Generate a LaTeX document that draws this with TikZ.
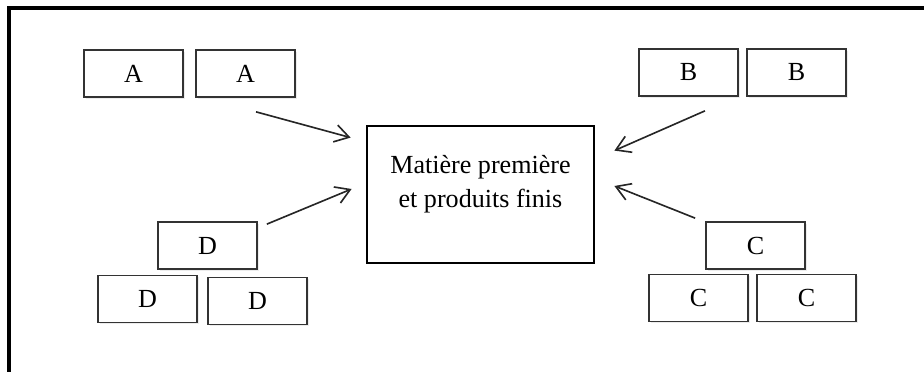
\documentclass[tikz,border=0pt]{standalone}
\usepackage{fontspec}
\setmainfont{Liberation Serif}
\usetikzlibrary{arrows.meta, shadows}

\begin{document}
\begin{tikzpicture}[x = 0.46pt, y = -0.46pt,
    part/.style = {draw = black!80, line width = 0.8pt, fill = white,
                   minimum width = 45.5pt, minimum height = 21.6pt, inner sep = 0pt,
                   drop shadow = {opacity = 0.15, shadow xshift = 0.8pt, shadow yshift = -0.8pt},
                   font = \fontsize{12}{14}\selectfont},
    mainbox/.style = {draw, line width = 1.3pt, minimum width = 104.4pt,
                      minimum height = 63pt, inner sep = 0pt},
    arr/.style = {-{Straight Barb[length = 6.5pt, width = 8pt]}, line width = 0.75pt, black!85}]
  \useasboundingbox (0, 0) rectangle (924, 372);
  % frame, cut off at the right and at the bottom
  \draw [line width = 1.4pt] (9, 372) -- (9, 8) -- (924, 8);

  \node [mainbox] (main) at (480.5, 194.5) {};
  \node [align = center, font = \fontsize{12}{15.6}\selectfont] (maintext) at (480.5, 184) {Matière première\\et produits finis};

  \node [part] (a1) at (133.5, 73.5) {A};
  \node [part] (a2) at (245.5, 73.5) {A};
  \node [part] (b1) at (688.5, 72.5) {B};
  \node [part] (b2) at (796.5, 72.5) {B};
  \node [part] (d1) at (207.5, 245.5) {D};
  \node [part] (d2) at (147.5, 299) {D};
  \node [part] (d3) at (257.5, 301) {D};
  \node [part] (c1) at (755.5, 245.5) {C};
  \node [part] (c2) at (698.5, 298) {C};
  \node [part] (c3) at (806.5, 298) {C};

  \draw [arr] ([shift = {(10.5, 14)}] a2.south) -- ([shift = {(-15, 13)}] main.north west);
  \draw [arr] ([shift = {(16.5, 14)}] b1.south) -- ([shift = {(19, 26)}] main.north east);
  \draw [arr] ([shift = {(9, 3)}] d1.north east) -- ([shift = {(-14, -5.5)}] main.west);
  \draw [arr] ([shift = {(-10, -3)}] c1.north west) -- ([shift = {(19, -8.5)}] main.east);
\end{tikzpicture}
\end{document}
